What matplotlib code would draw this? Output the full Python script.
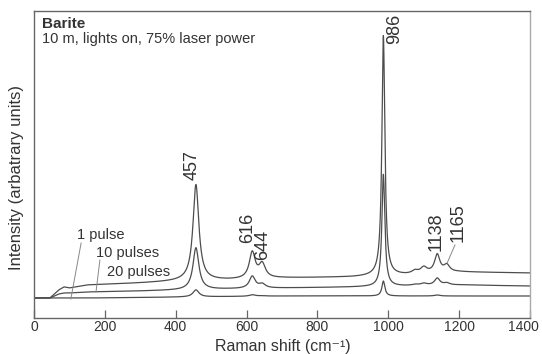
import numpy as np
import matplotlib.pyplot as plt
from matplotlib.transforms import ScaledTranslation

plt.rcParams['font.family'] = ['Liberation Sans', 'DejaVu Sans']

# Raman shift grid (cm-1)
shift = np.linspace(0, 1400, 2801)

# baseline anchors (intensity, arbitrary units)
base_x = [0, 45, 70, 85, 100, 150, 300, 420, 550, 700, 900, 1050, 1200, 1400]
base_20 = [20, 20, 28, 31, 30, 33, 35, 37, 38, 40, 41, 43, 46, 45]
base_10 = [20, 20, 24, 25, 25, 26, 27, 28, 29, 30, 31, 32, 33, 32]
base_1 = [20, 20, 20, 20, 20, 20, 20.5, 21, 21.5, 22, 22, 22, 22, 22]

# peaks: position, FWHM
peak_pos = [457, 616, 644, 986, 1075, 1100, 1138, 1165]
peak_fwhm = [20, 20, 22, 10, 20, 22, 18, 20]
# heights above baseline for each trace
height_20 = [96, 26, 14, 240, 3, 6, 18, 7]
height_10 = [42, 12, 4, 112, 1, 2, 7, 2]
height_1 = [7, 1.5, 0.5, 15, 0, 0, 1, 0]

peak_labels = ['457', '616', '644', '986', '1138', '1165']
label_x = [446, 604, 646, 1019, 1135, 1197]
label_y = [153, 90, 73, 289, 86, 95]


def spectrum(base, heights):
    y = np.interp(shift, base_x, base)
    for p, w, h in zip(peak_pos, peak_fwhm, heights):
        y = y + h / (1 + ((shift - p) / (w / 2)) ** 2)
    return y


fig = plt.figure(figsize=(5.42, 3.54), dpi=100)
ax = fig.add_axes([0.0627, 0.1017, 0.9153, 0.8673])

for base, heights in [(base_1, height_1), (base_10, height_10), (base_20, height_20)]:
    ax.plot(shift, spectrum(base, heights), color='#4d4d4d', lw=0.9)

ax.set_xlim(0, 1400)
ax.set_ylim(0, 307)
ax.set_xticks([0, 200, 400, 600, 800, 1000, 1200, 1400])
ax.set_yticks([])
ax.tick_params(axis='x', direction='in', length=6, width=0.9, color='#666666',
               labelsize=10, labelcolor='#333333', pad=1.5)
# last tick label nudged left so it stays in the figure
last = ax.get_xticklabels()[-1]
last.set_transform(last.get_transform() + ScaledTranslation(-5 / 72, 0, fig.dpi_scale_trans))
for s in ax.spines.values():
    s.set_color('#666666')
    s.set_linewidth(1.0)
ax.spines['right'].set_color('#aaaaaa')

fig.text(0.522, 0.0, 'Raman shift (cm\u207b\u00b9)', fontsize=11.5, color='#333333',
         ha='center', va='bottom')
fig.text(0.03, 0.5, 'Intensity (arbatrary units)', fontsize=12, color='#333333',
         ha='center', va='center', rotation=90)

ax.text(22, 294, 'Barite', fontsize=11, fontweight='bold', color='#333333', va='center')
ax.text(22, 279, '10 m, lights on, 75% laser power', fontsize=10.5, color='#333333',
        va='center')

for lab, lx, ly in zip(peak_labels, label_x, label_y):
    ax.text(lx, ly, lab, rotation=90, fontsize=13, color='#333333',
            ha='center', va='center')

# pulse labels with leader lines
ax.text(121, 83, '1 pulse', fontsize=10.5, color='#333333', va='center')
ax.plot([133, 104], [75, 19], color='#888888', lw=0.7)
ax.text(176, 65, '10 pulses', fontsize=10.5, color='#333333', va='center')
ax.plot([186, 175], [58, 26], color='#888888', lw=0.7)
ax.text(207, 46, '20 pulses', fontsize=10.5, color='#333333', va='center')
ax.plot([1188, 1166], [73, 55], color='#888888', lw=0.7)

fig.savefig('out.png', dpi=100)
